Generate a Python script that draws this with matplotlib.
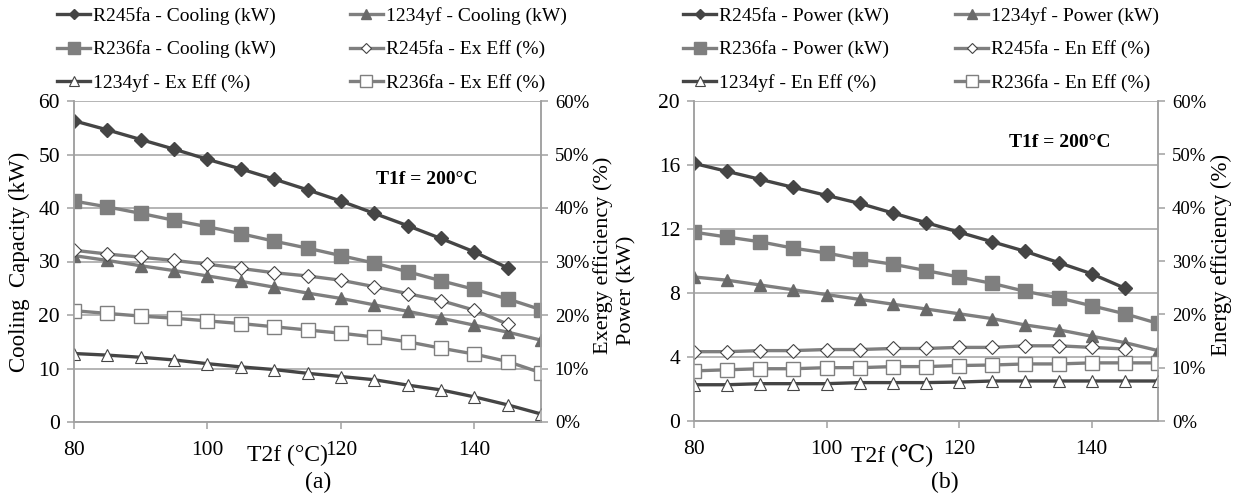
import matplotlib as mpl
mpl.use("Agg")
from matplotlib import pyplot as plt
from matplotlib.ticker import MultipleLocator, PercentFormatter

plt.rcParams["font.family"] = ["Liberation Serif", "DejaVu Serif"]

# Generator outlet temperature T2f (°C)
t2f = [80, 85, 90, 95, 100, 105, 110, 115, 120, 125, 130, 135, 140, 145, 150]

# (a) cooling capacity (kW) and exergy efficiency (%)
r245fa_cooling = [56.3, 54.6, 52.8, 51.0, 49.1, 47.3, 45.4, 43.4, 41.3, 39.0, 36.7, 34.3, 31.8, 28.8]
r236fa_cooling = [41.3, 40.2, 39.0, 37.7, 36.5, 35.2, 33.8, 32.5, 31.1, 29.7, 28.1, 26.4, 24.8, 23.0, 21.0]
r1234yf_cooling = [31.1, 30.2, 29.2, 28.3, 27.3, 26.3, 25.2, 24.1, 23.1, 21.9, 20.7, 19.4, 18.1, 16.8, 15.3]
r245fa_ex = [32.1, 31.4, 30.8, 30.2, 29.5, 28.7, 27.9, 27.3, 26.5, 25.3, 24.0, 22.7, 20.9, 18.3]
r236fa_ex = [20.8, 20.3, 19.8, 19.4, 18.9, 18.4, 17.8, 17.2, 16.6, 15.9, 15.0, 13.8, 12.7, 11.3, 9.2]
r1234yf_ex = [12.8, 12.5, 12.1, 11.6, 10.9, 10.3, 9.8, 9.1, 8.5, 7.9, 6.9, 6.0, 4.7, 3.2, 1.5]

# (b) power (kW) and energy efficiency (%)
r245fa_power = [16.1, 15.6, 15.1, 14.6, 14.1, 13.6, 13.0, 12.4, 11.8, 11.2, 10.6, 9.9, 9.2, 8.3]
r236fa_power = [11.8, 11.5, 11.2, 10.8, 10.5, 10.1, 9.8, 9.4, 9.0, 8.6, 8.1, 7.7, 7.2, 6.7, 6.1]
r1234yf_power = [9.0, 8.8, 8.5, 8.2, 7.9, 7.6, 7.3, 7.0, 6.7, 6.4, 6.0, 5.7, 5.3, 4.9, 4.4]
r245fa_en = [13.0, 13.0, 13.2, 13.2, 13.4, 13.4, 13.6, 13.6, 13.8, 13.8, 14.1, 14.1, 13.8, 13.5]
r236fa_en = [9.4, 9.6, 9.8, 9.8, 10.0, 10.0, 10.2, 10.2, 10.4, 10.5, 10.7, 10.7, 10.9, 10.9, 10.9]
r1234yf_en = [6.8, 6.8, 7.0, 7.0, 7.0, 7.2, 7.2, 7.2, 7.3, 7.5, 7.5, 7.5, 7.5, 7.5, 7.5]

DARK = "#454545"
GRAY = "#7f7f7f"
GRID = "#a0a0a0"
LW = 2.4


def style_axes(ax, ax2, ymax, ystep):
    ax.set_xlim(80, 150)
    ax.xaxis.set_major_locator(MultipleLocator(20))
    ax.set_ylim(0, ymax)
    ax.yaxis.set_major_locator(MultipleLocator(ystep))
    ax.yaxis.grid(True, color=GRID, linewidth=1.1)
    ax.set_axisbelow(True)
    ax2.set_ylim(0, 60)
    ax2.yaxis.set_major_locator(MultipleLocator(10))
    ax2.yaxis.set_major_formatter(PercentFormatter(decimals=0))
    for a in (ax, ax2):
        for s in a.spines.values():
            s.set_color(GRID)
            s.set_linewidth(1.1)
        a.spines["top"].set_visible(False)
        a.tick_params(colors=GRID, labelcolor="black", labelsize=15.5, length=5, width=1.1)
    ax.tick_params(axis="x", pad=9)
    ax.tick_params(axis="y", pad=5)
    ax2.tick_params(axis="y", pad=5, labelsize=13.5)


def seq(xs, ys):
    return xs[:len(ys)], ys


fig = plt.figure(figsize=(12.34, 4.96), dpi=100)
fig.patch.set_facecolor("white")

# ---------------- (a) ----------------
axa = fig.add_axes([74 / 1234, 1 - 422 / 496, 467 / 1234, 321 / 496])
axa2 = axa.twinx()
style_axes(axa, axa2, 60, 10)

ha = {}
ha["R245fa - Cooling (kW)"] = axa.plot(*seq(t2f, r245fa_cooling), color=DARK, lw=LW, marker="D", ms=7, mfc=DARK, mec=DARK)[0]
ha["1234yf - Cooling (kW)"] = axa.plot(*seq(t2f, r1234yf_cooling), color=GRAY, lw=LW, marker="^", ms=9, mfc="#6a6a6a", mec="#6a6a6a")[0]
ha["R236fa - Cooling (kW)"] = axa.plot(*seq(t2f, r236fa_cooling), color=GRAY, lw=LW, marker="s", ms=10, mfc=GRAY, mec=GRAY)[0]
ha["R245fa - Ex Eff (%)"] = axa2.plot(*seq(t2f, r245fa_ex), color=GRAY, lw=LW, marker="D", ms=7, mfc="white", mec=DARK, mew=0.8)[0]
ha["1234yf - Ex Eff (%)"] = axa2.plot(*seq(t2f, r1234yf_ex), color=DARK, lw=LW, marker="^", ms=9, mfc="white", mec=DARK, mew=0.8)[0]
ha["R236fa - Ex Eff (%)"] = axa2.plot(*seq(t2f, r236fa_ex), color=GRAY, lw=LW, marker="s", ms=10, mfc="white", mec=GRAY, mew=1.0)[0]

axa.text(132.9, 45.4, "T1f = 200°C", fontsize=14, fontweight="bold", ha="center", va="center")

# ---------------- (b) ----------------
axb = fig.add_axes([694 / 1234, 1 - 421 / 496, 464 / 1234, 320 / 496])
axb2 = axb.twinx()
style_axes(axb, axb2, 20, 4)

hb = {}
hb["R245fa - Power (kW)"] = axb.plot(*seq(t2f, r245fa_power), color=DARK, lw=LW, marker="D", ms=7, mfc=DARK, mec=DARK)[0]
hb["1234yf - Power (kW)"] = axb.plot(*seq(t2f, r1234yf_power), color=GRAY, lw=LW, marker="^", ms=9, mfc="#6a6a6a", mec="#6a6a6a")[0]
hb["R236fa - Power (kW)"] = axb.plot(*seq(t2f, r236fa_power), color=GRAY, lw=LW, marker="s", ms=10, mfc=GRAY, mec=GRAY)[0]
hb["R245fa - En Eff (%)"] = axb2.plot(*seq(t2f, r245fa_en), color=GRAY, lw=LW, marker="D", ms=7, mfc="white", mec=DARK, mew=0.8)[0]
hb["1234yf - En Eff (%)"] = axb2.plot(*seq(t2f, r1234yf_en), color=DARK, lw=LW, marker="^", ms=9, mfc="white", mec=DARK, mew=0.8)[0]
hb["R236fa - En Eff (%)"] = axb2.plot(*seq(t2f, r236fa_en), color=GRAY, lw=LW, marker="s", ms=10, mfc="white", mec=GRAY, mew=1.0)[0]

axb.text(135.2, 17.4, "T1f = 200°C", fontsize=14, fontweight="bold", ha="center", va="center")


def legend(handles, x, colgap):
    # row-wise order: entries 0,1 / 2,3 / 4,5 -> matplotlib fills by column
    keys = list(handles)
    order = [keys[0], keys[2], keys[4], keys[1], keys[3], keys[5]]
    fig.legend([handles[k] for k in order], order, loc="upper left",
               bbox_to_anchor=(x / 1234, 1 - 7 / 496), ncol=2, frameon=False,
               fontsize=14, handlelength=1.7, handletextpad=0.15, labelspacing=0.8,
               columnspacing=colgap, borderpad=0, borderaxespad=0, markerscale=0.8)


# legend entries listed row by row
legend({k: ha[k] for k in ["R245fa - Cooling (kW)", "1234yf - Cooling (kW)",
                           "R236fa - Cooling (kW)", "R245fa - Ex Eff (%)",
                           "1234yf - Ex Eff (%)", "R236fa - Ex Eff (%)"]}, 57, 3.8)
legend({k: hb[k] for k in ["R245fa - Power (kW)", "1234yf - Power (kW)",
                           "R236fa - Power (kW)", "R245fa - En Eff (%)",
                           "1234yf - En Eff (%)", "R236fa - En Eff (%)"]}, 683, 3.4)

# axis titles
fig.text(19 / 1234, 1 - 262 / 496, "Cooling  Capacity (kW)", rotation=90, fontsize=16.5, ha="center", va="center")
fig.text(603 / 1234, 1 - 255 / 496, "Exergy efficiency (%)", rotation=90, fontsize=16, ha="center", va="center")
fig.text(627 / 1234, 1 - 290 / 496, "Power (kW)", rotation=90, fontsize=16, ha="center", va="center")
fig.text(1221 / 1234, 1 - 255 / 496, "Energy efficiency (%)", rotation=90, fontsize=16.5, ha="center", va="center")
fig.text(287 / 1234, 1 - 455 / 496, "T2f (°C)", fontsize=17, ha="center", va="center")
fig.text(892 / 1234, 1 - 455 / 496, "T2f (\u2103)", fontsize=17, ha="center", va="center")
fig.text(318 / 1234, 1 - 482 / 496, "(a)", fontsize=17, ha="center", va="center")
fig.text(945 / 1234, 1 - 482 / 496, "(b)", fontsize=17, ha="center", va="center")

fig.savefig("out.png", dpi=100, facecolor="white")
